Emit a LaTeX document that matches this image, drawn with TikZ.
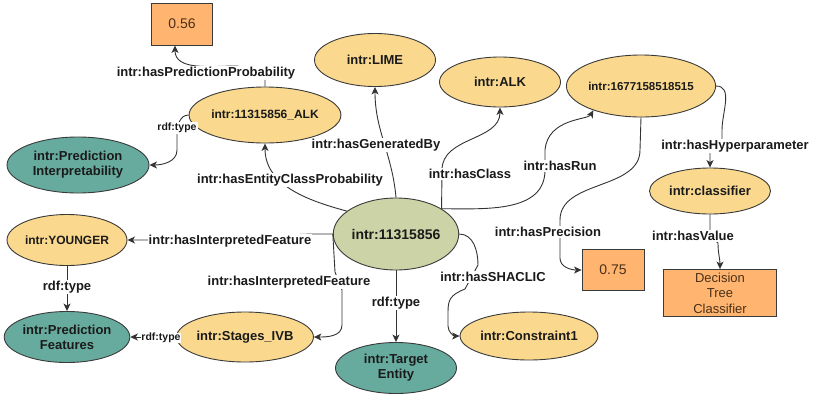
\documentclass[tikz,border=0pt]{standalone}
\usepackage{fontspec}
\setmainfont{Liberation Sans}
\usetikzlibrary{shapes.geometric,arrows.meta}
\definecolor{yel}{HTML}{FAD98E}
\definecolor{tealc}{HTML}{67AB9F}
\definecolor{sage}{HTML}{CCD3A6}
\definecolor{org}{HTML}{FFB570}
\definecolor{edgec}{HTML}{3A3A3A}
\definecolor{linec}{HTML}{333333}
\definecolor{txt}{HTML}{1A1A1A}
\definecolor{valtxt}{HTML}{4A3018}
\begin{document}
\begin{tikzpicture}[x=1pt,y=-1pt,
 ell/.style={ellipse, draw=edgec, line width=0.9pt, inner sep=0pt, align=center,
   font=\fontsize{13}{15}\selectfont\bfseries, text=txt},
 inst/.style={ell, fill=yel},
 clsn/.style={ell, fill=tealc},
 val/.style={rectangle, draw=edgec, fill=org, line width=0.9pt, align=center, inner sep=0pt,
   font=\fontsize{14}{15.5}\selectfont, text=valtxt},
 lab/.style={fill=white, inner sep=1pt, font=\fontsize{13}{15}\selectfont\bfseries, text=txt},
 smalllab/.style={lab, font=\fontsize{10.5}{12}\selectfont\bfseries},
 arr/.style={draw=linec, line width=0.9pt, -{Stealth[length=7.5pt,width=7pt,inset=2pt]}},
]
\useasboundingbox (0,0) rectangle (817,400);

% nodes
\node[val, minimum width=61pt, minimum height=42pt] (v056) at (182,24) {0.56};
\node[inst, minimum width=121pt, minimum height=56pt, font=\fontsize{12}{14}\selectfont\bfseries] (ALKi) at (265,115) {intr:11315856\_ALK};
\node[clsn, minimum width=142pt, minimum height=56pt] (PI) at (78,165) {intr:Prediction\\Interpretability};
\node[inst, minimum width=121pt, minimum height=53pt] (LIME) at (375,60) {intr:LIME};
\node[inst, minimum width=121pt, minimum height=50pt] (ALK) at (500,82) {intr:ALK};
\node[inst, minimum width=122pt, minimum height=62pt, font=\fontsize{11.5}{13}\selectfont\bfseries] (N1677) at (641,86) {intr:1677158518515};
\node[inst, minimum width=121pt, minimum height=46pt] (clsf) at (710,191) {intr:classifier};
\node[val, minimum width=113pt, minimum height=47pt, font=\fontsize{13}{15.5}\selectfont] (DTC) at (720,293) {Decision\\Tree\\Classifier};
\node[val, minimum width=62pt, minimum height=41pt] (v075) at (613,270) {0.75};
\node[ell, fill=sage, minimum width=123pt, minimum height=72pt, font=\fontsize{14}{16}\selectfont\bfseries] (C) at (396,234) {intr:11315856};
\node[inst, minimum width=122pt, minimum height=48pt] (Con) at (529,336) {intr:Constraint1};
\node[clsn, minimum width=121pt, minimum height=51pt] (TE) at (396,368) {intr:Target\\Entity};
\node[inst, minimum width=124pt, minimum height=50pt] (SIVB) at (245,337) {intr:Stages\_IVB};
\node[clsn, minimum width=121pt, minimum height=51pt] (PF) at (67,337) {intr:Prediction\\Features};
\node[inst, minimum width=120pt, minimum height=51pt, font=\fontsize{12}{14}\selectfont\bfseries] (YNG) at (67,240) {intr:YOUNGER};

% connectors
\draw[arr] (ALKi.north) -- (265,72) -- (237,66) to[out=180,in=-90] ([xshift=-7pt]v056.south);
\draw[arr] (ALKi.west) to[out=180,in=90] (177,135) -- (177,150) to[out=-90,in=0] (PI.east);
\draw[arr] (C.155) to[out=165,in=-90] (ALKi.south);
\draw[arr] (C.north) to[out=95,in=-90] (LIME.south);
\draw[arr] (C.29) -- (442,170) to[out=90,in=-90] (ALK.south);
\draw[arr] (C.29) to[out=0,in=-90] (545,170) -- (545,150) .. controls (548,118) and (588,120) .. (N1677.207);
\draw[arr] (N1677.south) -- (640,150) .. controls (640,190) and (560,180) .. (560,220) -- (560,258) to[out=-90,in=180] (v075.west);
\draw[arr] (N1677.east) to[out=0,in=90] (722,130) -- (722,146) -- (710,146) -- (clsf.north);
\draw[arr] (clsf.south) -- (710,236) -- (718,243) to[out=-90,in=90] (DTC.north);
\draw[arr] (C.west) -- (312,234) -- (148,240) -- (YNG.east);
\draw[arr] (C.west) -- (335,272) -- (342,290) -- (342,325) to[out=-90,in=0] (SIVB.east);
\draw[arr] (C.south) -- (TE.north);
\draw[arr] (C.east) to[out=0,in=90] (478,265) -- (465,289) .. controls (450,295) and (448,300) .. (448,312) -- (448,326) to[out=-90,in=180] (Con.west);
\draw[arr] (YNG.south) -- (PF.north);
\draw[arr] (SIVB.west) -- (PF.east);

% labels
\node[lab] (l1) at (206,73) {intr:hasPredictionProbability};
\node[smalllab] (l2) at (177,128) {rdf:type};
\node[lab] (l3) at (290,180) {intr:hasEntityClassProbability};
\node[lab] (l4) at (376,145) {intr:hasGeneratedBy};
\node[lab] (l5) at (470,174) {intr:hasClass};
\node[lab] (l6) at (560,166) {intr:hasRun};
\node[lab] (l7) at (548,232) {intr:hasPrecision};
\node[lab] (l8) at (735,146) {intr:hasHyperparameter};
\node[lab] (l9) at (693,236) {intr:hasValue};
\node[lab] (l10) at (230,241) {intr:hasInterpretedFeature};
\node[lab] (l11) at (289,282) {intr:hasInterpretedFeature};
\node[lab] (l12) at (396,303) {rdf:type};
\node[lab] (l13) at (493,277) {intr:hasSHACLIC};
\node[lab] (l14) at (67,287) {rdf:type};
\node[smalllab, inner sep=0.5pt] (l15) at (161,338) {rdf:type};
\end{tikzpicture}
\end{document}
